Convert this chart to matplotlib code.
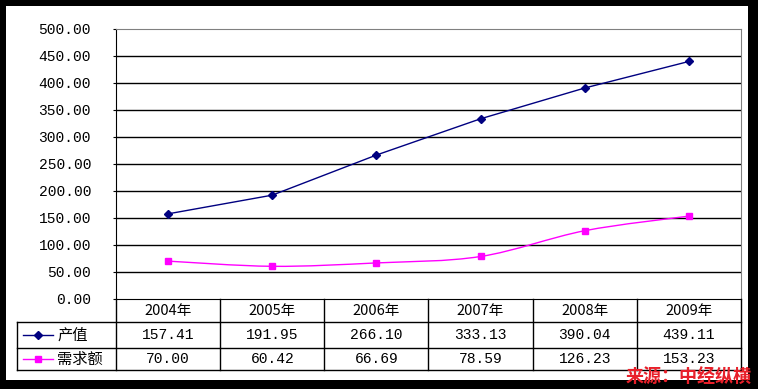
import numpy as np
import matplotlib
matplotlib.use("Agg")
import matplotlib.pyplot as plt
from matplotlib.path import Path
from matplotlib.patches import PathPatch, Rectangle
from matplotlib.lines import Line2D
import matplotlib.transforms as mtransforms

years = ["2004年", "2005年", "2006年", "2007年", "2008年", "2009年"]
output_vals = [157.41, 191.95, 266.10, 333.13, 390.04, 439.11]
demand_vals = [70.00, 60.42, 66.69, 78.59, 126.23, 153.23]
series_names = ["产值", "需求额"]
y_ticks = [0, 50, 100, 150, 200, 250, 300, 350, 400, 450, 500]

W, H = 758, 389
NUM_FONT = ["Liberation Mono", "Noto Sans CJK SC"]
CJK_FONT = ["Noto Sans CJK SC", "DejaVu Sans"]
BLUE = "#000080"
PINK = "#ff00ff"


def fx(px):
    return px / W


def fy(py):
    return 1 - py / H


fig = plt.figure(figsize=(W / 100, H / 100), dpi=100)
fig.patch.set_facecolor("black")
fig.add_artist(Rectangle((fx(6), fy(380)), fx(748) - fx(6), fy(6) - fy(380),
                         transform=fig.transFigure, facecolor="white",
                         edgecolor="none", zorder=0))

left, right, top, bottom = 116, 741, 28.5, 299
ax = fig.add_axes([fx(left), fy(bottom), fx(right) - fx(left), fy(top) - fy(bottom)])
ax.set_xlim(-0.5, len(years) - 0.5)
ax.set_ylim(0, 500)
ax.set_yticks(y_ticks)
ax.set_yticklabels([f"{v:.2f}" for v in y_ticks], family=NUM_FONT, fontsize=10.5)
ax.set_xticks([])
ax.tick_params(axis="y", length=2, pad=16, color="black")
for v in y_ticks[1:-1]:
    ax.axhline(v, color="black", lw=1, zorder=1)
ax.spines["top"].set_color("#808080")
ax.spines["right"].set_color("#808080")
ax.spines["left"].set_color("black")
ax.spines["bottom"].set_color("black")

x = np.arange(len(years))

# 产值: straight segments
ax.plot(x, output_vals, color=BLUE, lw=1, marker="D", markersize=4.5,
        markerfacecolor=BLUE, markeredgecolor=BLUE, zorder=3)

# 需求额: smoothed curve (bezier through the data points)
pts = np.column_stack([x, demand_vals]).astype(float)
verts = [pts[0]]
codes = [Path.MOVETO]
n = len(pts)
for i in range(n - 1):
    p_prev = pts[i - 1] if i > 0 else pts[i]
    p_next2 = pts[i + 2] if i + 2 < n else pts[i + 1]
    c1 = pts[i] + (pts[i + 1] - p_prev) / 6
    c2 = pts[i + 1] - (p_next2 - pts[i]) / 6
    verts += [c1, c2, pts[i + 1]]
    codes += [Path.CURVE4] * 3
ax.add_patch(PathPatch(Path(verts, codes), facecolor="none", edgecolor=PINK,
                       lw=1, zorder=3))
ax.plot(x, demand_vals, ls="none", marker="s", markersize=5,
        markerfacecolor=PINK, markeredgecolor=PINK, zorder=4)

# data table below the plot
row_y = [299, 322, 348, 370]
col_w = (right - left) / len(years)
table_left = 17
lk = dict(color="black", lw=1, transform=fig.transFigure)
for yy in row_y[1:]:
    fig.add_artist(Line2D([fx(table_left), fx(right)], [fy(yy), fy(yy)], **lk))
for k in range(len(years) + 1):
    xx = left + k * col_w
    fig.add_artist(Line2D([fx(xx), fx(xx)], [fy(row_y[0]), fy(row_y[3])], **lk))
fig.add_artist(Line2D([fx(table_left), fx(table_left)], [fy(row_y[1]), fy(row_y[3])], **lk))

bt = mtransforms.blended_transform_factory(ax.transData, fig.transFigure)
for i, yr in enumerate(years):
    ax.text(i, fy((row_y[0] + row_y[1]) / 2), yr, transform=bt, ha="center",
            va="center", family=CJK_FONT, fontsize=10.5, clip_on=False)
    ax.text(i, fy((row_y[1] + row_y[2]) / 2), f"{output_vals[i]:.2f}", transform=bt,
            ha="center", va="center", family=NUM_FONT, fontsize=10.5, clip_on=False)
    ax.text(i, fy((row_y[2] + row_y[3]) / 2), f"{demand_vals[i]:.2f}", transform=bt,
            ha="center", va="center", family=NUM_FONT, fontsize=10.5, clip_on=False)

keys = [(BLUE, "D", 4.5), (PINK, "s", 5)]
for r, (name, (c, m, ms)) in enumerate(zip(series_names, keys)):
    yc = fy((row_y[r + 1] + row_y[r + 2]) / 2)
    fig.add_artist(Line2D([fx(23), fx(53)], [yc, yc], color=c, lw=1,
                          transform=fig.transFigure))
    fig.add_artist(Line2D([fx(38)], [yc], color=c, marker=m, markersize=ms,
                          transform=fig.transFigure))
    fig.text(fx(57), yc, name, ha="left", va="center", family=CJK_FONT, fontsize=11)

fig.text(fx(752), fy(377), "来源：中经纵横", ha="right", va="center",
         family=CJK_FONT, fontsize=13, fontweight="bold", color="#e8202a")

fig.savefig("out.png", dpi=100, facecolor=fig.get_facecolor())
